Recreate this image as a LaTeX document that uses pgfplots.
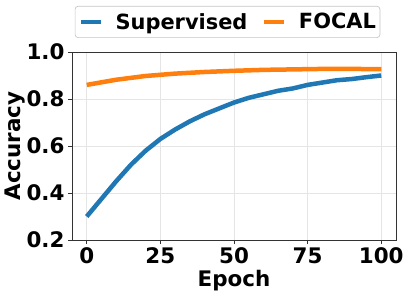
\documentclass[border=0pt]{standalone}
\usepackage{pgfplots}
\pgfplotsset{compat=1.18}
\usepackage{fontspec}
\setmainfont{DejaVu Sans}
\definecolor{mplblue}{HTML}{1F77B4}
\definecolor{mplorange}{HTML}{FF7F0E}
\begin{document}
\begin{tikzpicture}[x=1bp,y=1bp]
\path[use as bounding box] (-72,-56) rectangle (335,240);
\begin{axis}[
  at={(0,0)}, anchor=south west,
  scale only axis, width=324bp, height=188bp,
  xmin=-5, xmax=105, ymin=0.2, ymax=1.0,
  xtick={0,25,50,75,100}, ytick={0.2,0.4,0.6,0.8,1.0},
  yticklabel style={/pgf/number format/fixed,/pgf/number format/precision=1,/pgf/number format/fixed zerofill},
  /pgf/number format/assume math mode=true,
  ticklabel style={font=\bfseries\fontsize{21.5}{21.5}\selectfont},
  label style={font=\bfseries\fontsize{21.5}{21.5}\selectfont},
  xlabel={Epoch}, ylabel={Accuracy},
  xlabel style={at={(axis description cs:0.5,-0.218)}, anchor=center},
  ylabel style={at={(axis description cs:-0.176,0.5)}, anchor=center},
  tick align=outside, major tick length=4bp,
  tick style={black!80, line width=0.8bp},
  xtick pos=bottom, ytick pos=left,
  axis line style={black!80, line width=0.8bp},
  grid=major, grid style={gray!20, line width=0.6bp},
  legend columns=2,
  legend style={at={(axis description cs:0.48,1.16)}, anchor=center,
    draw=gray!45, rounded corners=3bp, line width=0.7bp,
    font=\bfseries\fontsize{21}{21}\selectfont,
    nodes={inner xsep=0bp},
    /tikz/every odd column/.append style={column sep=13bp},
    /tikz/every even column/.append style={column sep=15bp},
    inner xsep=4bp, inner ysep=5bp},
  legend image code/.code={\draw[#1, line width=3.5bp] (0bp,0bp) -- (20bp,0bp);},
]
\addplot[mplblue, line width=4.5bp] coordinates {
(0,0.30) (5,0.375) (10,0.45) (15,0.52) (20,0.58) (25,0.63) (30,0.67) (35,0.705)
(40,0.735) (45,0.76) (50,0.785) (55,0.805) (60,0.82) (65,0.835) (70,0.845)
(75,0.86) (80,0.87) (85,0.88) (90,0.885) (95,0.893) (100,0.90)};
\addlegendentry{Supervised}
\addplot[mplorange, line width=4.5bp] coordinates {
(0,0.86) (10,0.882) (20,0.898) (30,0.908) (40,0.915) (50,0.92) (60,0.924)
(70,0.926) (80,0.928) (90,0.928) (100,0.927)};
\addlegendentry{FOCAL}
\end{axis}
\end{tikzpicture}
\end{document}
